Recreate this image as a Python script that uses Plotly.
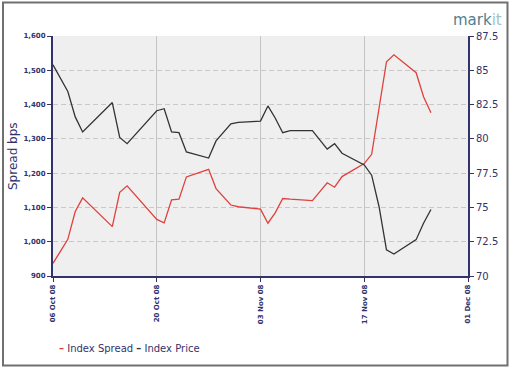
import plotly.graph_objects as go

dates = ["2008-10-06", "2008-10-08", "2008-10-09", "2008-10-10", "2008-10-14", "2008-10-15",
         "2008-10-16", "2008-10-20", "2008-10-21", "2008-10-22", "2008-10-23", "2008-10-24",
         "2008-10-27", "2008-10-28", "2008-10-30", "2008-10-31", "2008-11-03", "2008-11-04",
         "2008-11-05", "2008-11-06", "2008-11-07", "2008-11-10", "2008-11-12", "2008-11-13",
         "2008-11-14", "2008-11-17", "2008-11-18", "2008-11-19", "2008-11-20", "2008-11-21",
         "2008-11-24", "2008-11-25", "2008-11-26"]

index_spread = [937, 1007, 1088, 1128, 1044, 1144, 1163, 1065, 1055, 1122, 1124, 1189,
                1211, 1155, 1107, 1102, 1095, 1054, 1085, 1126, 1124, 1120, 1172, 1159,
                1190, 1228, 1255, 1394, 1525, 1545, 1493, 1423, 1376]

index_price = [85.4, 83.45, 81.6, 80.5, 82.65, 80.1, 79.65, 82.05, 82.2, 80.5, 80.45, 79.05,
               78.6, 79.85, 81.1, 81.2, 81.3, 82.4, 81.5, 80.45, 80.6, 80.6, 79.25, 79.65,
               78.95, 78.1, 77.35, 75.05, 71.9, 71.6, 72.65, 73.85, 74.85]

tick_dates = ["2008-10-06", "2008-10-20", "2008-11-03", "2008-11-17", "2008-12-01"]

NAVY = "#33336b"
W, H = 510, 368
L, R, T, B = 53, 42, 36, 92
pw, ph = W - L - R, H - T - B

def px(x):
    return (x - L) / pw

def py(y):
    return (H - B - y) / ph

fig = go.Figure()
fig.add_trace(go.Scatter(x=dates, y=index_spread, mode="lines", name="Index Spread",
                         line=dict(color="#e0403c", width=1.3), yaxis="y"))
fig.add_trace(go.Scatter(x=dates, y=index_price, mode="lines", name="Index Price",
                         line=dict(color="#333333", width=1.3), yaxis="y2"))

fig.update_layout(
    width=W, height=H,
    margin=dict(l=L, r=R, t=T, b=B),
    paper_bgcolor="white",
    plot_bgcolor="#efefef",
    showlegend=False,
    font=dict(family="DejaVu Sans", color=NAVY),
    xaxis=dict(
        type="date", range=["2008-10-06", "2008-12-01"],
        tickvals=tick_dates, tickformat="%d %b %y", tickangle=-90,
        tickfont=dict(size=7, color=NAVY, weight="bold"),
        showgrid=True, gridcolor="#c4c4c4", gridwidth=1,
        showline=True, linecolor=NAVY, linewidth=1.5,
        ticks="outside", ticklen=4, tickcolor=NAVY, zeroline=False,
    ),
    yaxis=dict(
        range=[900, 1600], dtick=100, tickformat=",",
        tickfont=dict(size=7, color=NAVY, weight="bold"),
        showgrid=True, gridcolor="#c8c8c8", griddash="5px,3px", gridwidth=1,
        showline=True, linecolor=NAVY, linewidth=2,
        ticks="outside", ticklen=4, tickcolor=NAVY, zeroline=False,
    ),
    yaxis2=dict(
        range=[70, 87.5], dtick=2.5, overlaying="y", side="right",
        tickfont=dict(size=10, color=NAVY),
        showgrid=False,
        showline=True, linecolor=NAVY, linewidth=2,
        ticks="outside", ticklen=4, tickcolor=NAVY, zeroline=False,
    ),
    shapes=[
        dict(type="rect", xref="paper", yref="paper",
             x0=px(3), x1=px(507.5), y0=py(365.5), y1=py(2.5),
             line=dict(color="#707070", width=2), fillcolor="rgba(0,0,0,0)", layer="below"),
    ],
    annotations=[
        dict(xref="paper", yref="paper", x=px(13), y=py(156), text="Spread bps",
             textangle=-90, showarrow=False, xanchor="center", yanchor="middle",
             font=dict(size=12, color=NAVY)),
        dict(xref="paper", yref="paper", x=px(57), y=py(348),
             text='<span style="color:#e0403c"><b>–</b></span> Index Spread <span style="color:#333333"><b>–</b></span> Index Price',
             showarrow=False, xanchor="left", yanchor="middle",
             font=dict(size=10, color=NAVY)),
        dict(xref="paper", yref="paper", x=px(504), y=py(20),
             text='<span style="color:#4f7f8f">mark</span><span style="color:#9fc3cf">it</span>',
             showarrow=False, xanchor="right", yanchor="middle",
             font=dict(size=15, family="DejaVu Sans")),
    ],
)

fig.write_html("out.html", config={"displayModeBar": False},
               post_script="document.body.style.margin='0';document.body.style.padding='0';")
